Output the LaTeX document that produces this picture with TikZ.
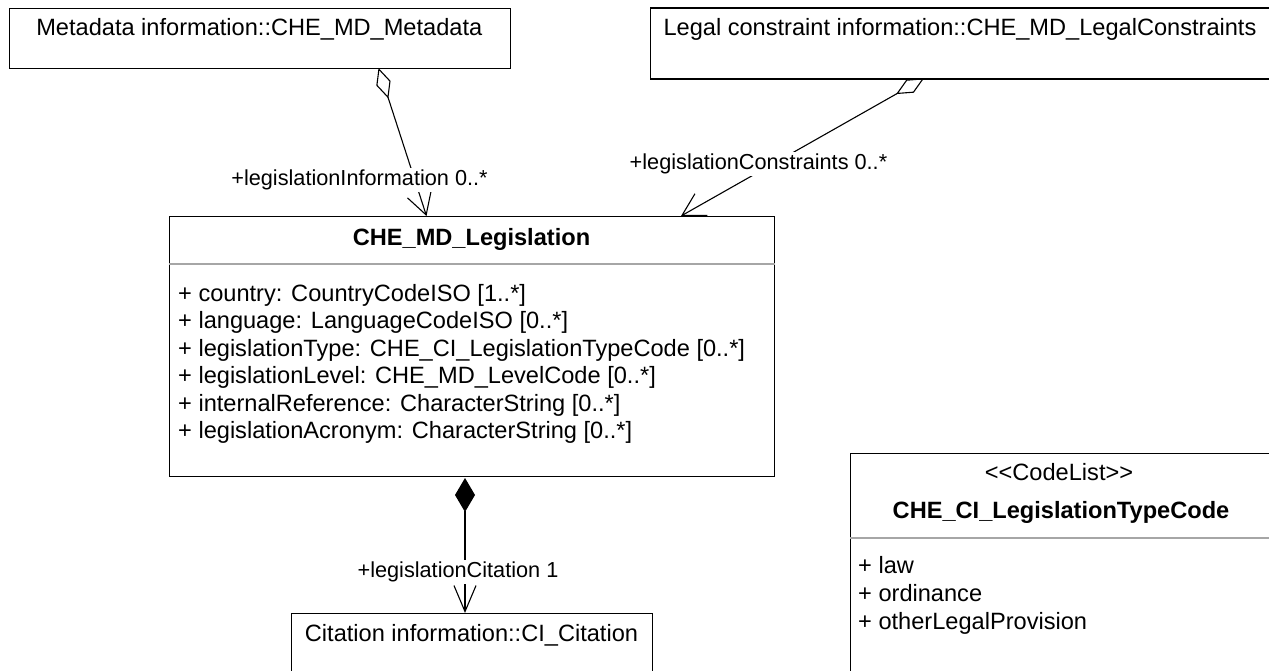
\documentclass[tikz,border=0pt]{standalone}
\usepackage{fontspec}
\setmainfont{Liberation Sans}
\usetikzlibrary{arrows.meta}
\begin{document}
\begin{tikzpicture}[x=1pt,y=-1pt,
  box/.style={draw=black, line width=1.4pt, inner sep=0pt, anchor=north west},
  txt/.style={inner sep=0pt, font=\fontsize{23.6}{28}\selectfont, anchor=base},
  attr/.style={txt, anchor=base west},
  ttl/.style={txt, font=\fontsize{23.6}{28}\selectfont\bfseries},
  lbl/.style={fill=white, inner sep=1.5pt, font=\fontsize{21.7}{26}\selectfont},
  sepline/.style={draw=black!35, line width=1.5pt},
  conn/.style={draw=black, line width=1.1pt},
  tgt/.style={-{Straight Barb[length=22pt,width=25pt]}},
  agg/.style={{Diamond[open,length=32pt,width=15pt]}-{Straight Barb[length=22pt,width=25pt]}},
  comp/.style={{Diamond[length=34pt,width=20pt]}-{Straight Barb[length=26pt,width=22pt]}}
]
\useasboundingbox (0,0) rectangle (1269,671);
\fill[white] (0,0) rectangle (1269,671);

% boxes
\node[box, minimum width=501.4pt, minimum height=60pt] (meta) at (8.6,8) {};
\node[box, minimum width=621pt, minimum height=71pt] (legal) at (649.6,7.3) {};
\node[box, minimum width=605pt, minimum height=260pt] (leg) at (169,216) {};
\node[box, minimum width=422pt, minimum height=240pt] (code) at (850,453) {};
\node[box, minimum width=361pt, minimum height=80pt] (cit) at (291,613) {};

% compartment separators
\draw[sepline] ([yshift=-48pt]leg.north west) -- ([yshift=-48pt]leg.north east);
\draw[sepline] ([yshift=-85pt]code.north west) -- ([yshift=-85pt]code.north east);

% texts
\node[txt] (metaT) at (259.3,36) {Metadata information::CHE\_MD\_Metadata};
\node[txt] (legalT) at (960,36) {Legal constraint information::CHE\_MD\_LegalConstraints};
\node[ttl] (legT) at (471.5,245) {CHE\_MD\_Legislation};
\node[attr] (a1) at (178,301) {+ country: CountryCodeISO [1..*]};
\node[attr] (a2) at (178,328.5) {+ language: LanguageCodeISO [0..*]};
\node[attr] (a3) at (178,356) {+ legislationType: CHE\_CI\_LegislationTypeCode [0..*]};
\node[attr] (a4) at (178,383.5) {+ legislationLevel: CHE\_MD\_LevelCode [0..*]};
\node[attr] (a5) at (178,411) {+ internalReference: CharacterString [0..*]};
\node[attr] (a6) at (178,438.5) {+ legislationAcronym: CharacterString [0..*]};
\node[txt] (codeS) at (1059,480) {<\kern0pt<CodeList>\kern0pt>};
\node[ttl] (codeT) at (1061,518) {CHE\_CI\_LegislationTypeCode};
\node[attr] (c1) at (858,573) {+ law};
\node[attr] (c2) at (858,601) {+ ordinance};
\node[attr] (c3) at (858,629) {+ otherLegalProvision};
\node[txt] (citT) at (471.5,641) {Citation information::CI\_Citation};

% connectors
\coordinate (mSrc) at (378.5,68);
\coordinate (mDst) at (426.5,216);
\coordinate (lSrc) at (924,78.3);
\coordinate (lDst) at (681,216);
\coordinate (cSrc) at (465,478);
\coordinate (cDst) at (465,613);
\draw[conn, agg] (mSrc) -- (mDst);
\draw[conn, agg] (lSrc) -- (lDst);
\draw[conn, comp] (cSrc) -- (cDst);

% role labels
\node[lbl] (r1) at (359.5,180) {+legislationInformation 0..*};
\node[lbl] (r2) at (758.5,164) {+legislationConstraints 0..*};
\node[lbl] (r3) at (458,572) {+legislationCitation 1};
\end{tikzpicture}
\end{document}
